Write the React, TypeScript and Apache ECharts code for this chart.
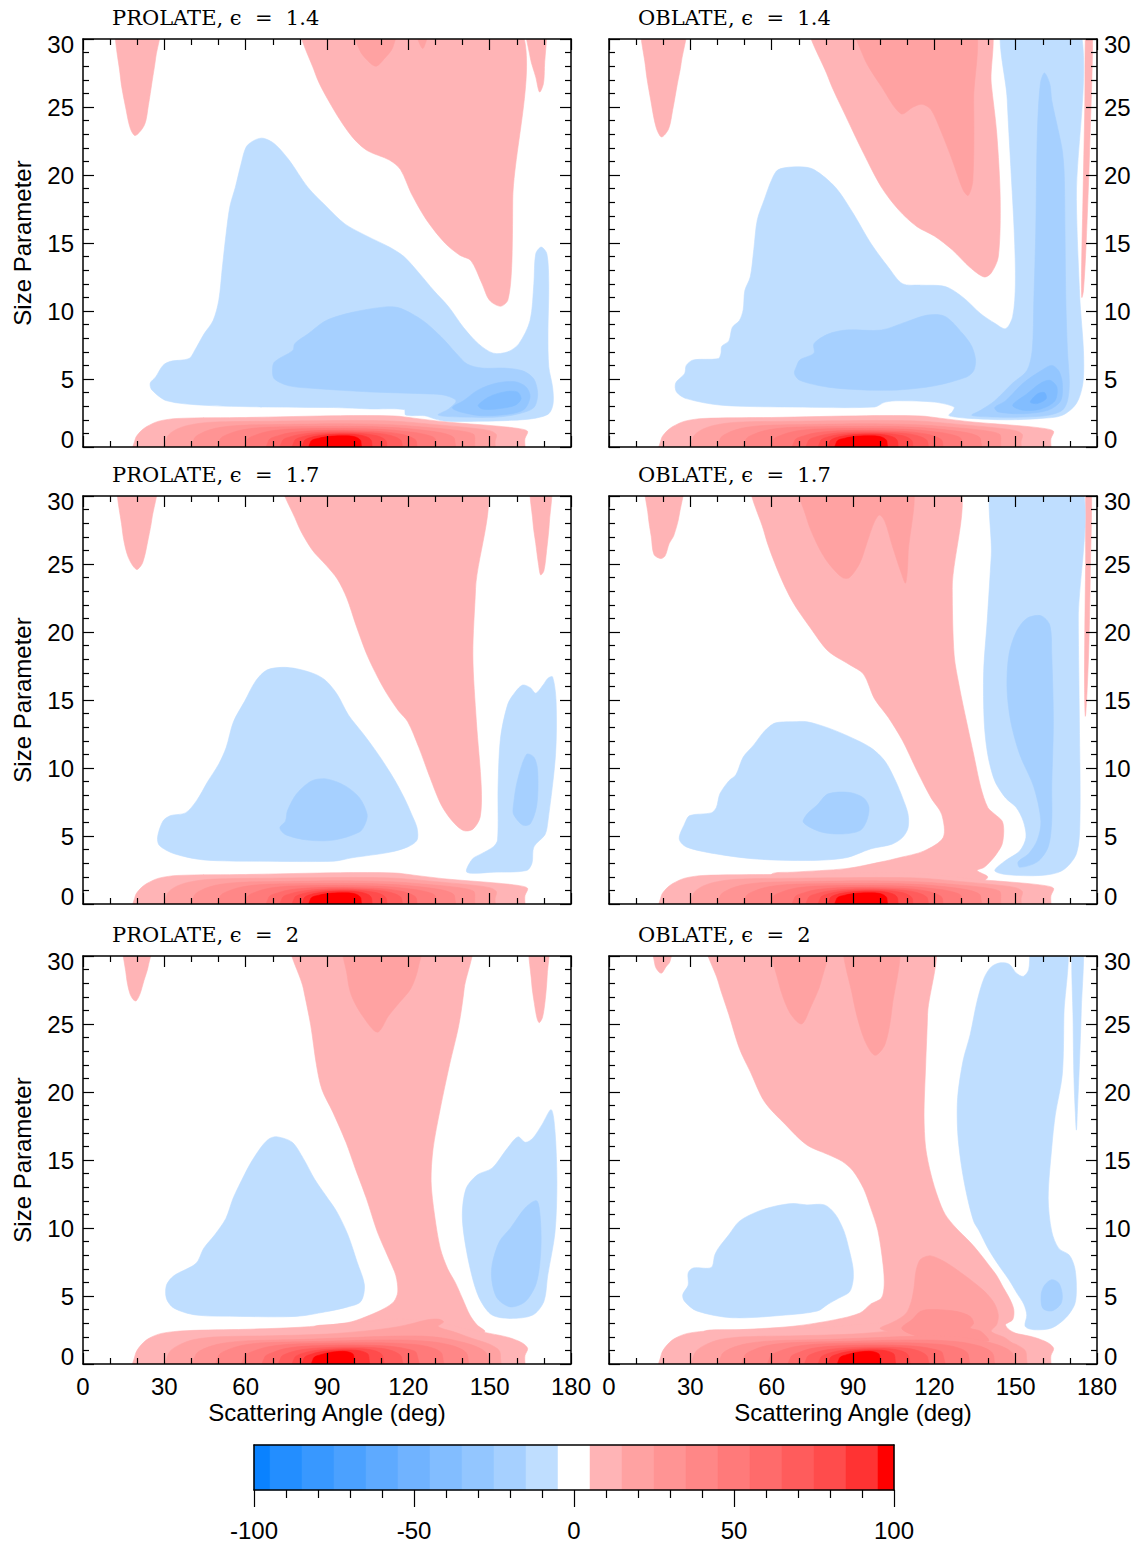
import React, { useEffect, useRef } from 'react';
import * as echarts from 'echarts';

type Pt = [number, number];
type Region = { lv: number; pts: Pt[] };

// Axis ranges
const ANGLE_MIN = 0;
const ANGLE_MAX = 180;
const ANGLE_STEP = 30;
const SIZE_MIN = 0;
const SIZE_MAX = 30;
const SIZE_STEP = 5;

const X_TITLE = 'Scattering Angle (deg)';
const Y_TITLE = 'Size Parameter';
const SP = '\u00a0';
const PANEL_TITLES = [
  `PROLATE, ϵ${SP}${SP}=${SP}${SP}1.4`,
  `OBLATE, ϵ${SP}${SP}=${SP}${SP}1.4`,
  `PROLATE, ϵ${SP}${SP}=${SP}${SP}1.7`,
  `OBLATE, ϵ${SP}${SP}=${SP}${SP}1.7`,
  `PROLATE, ϵ${SP}${SP}=${SP}${SP}2`,
  `OBLATE, ϵ${SP}${SP}=${SP}${SP}2`,
];

// Contour level edges (percent) and their fills
const LEVEL_EDGES = [-100, -95, -85, -75, -65, -55, -45, -35, -25, -15, -5, 5, 15, 25, 35, 45, 55, 65, 75, 85, 95, 100];
// level -1 (-15..-5) first, down to level -10 (-100..-95)
const BLUE_FILLS = ['#bfdeff', '#a6d0ff', '#93c6ff', '#82bdff', '#70b3ff', '#5eaaff', '#4ba1ff', '#3898ff', '#238eff', '#0a82ff'];
// level 1 (5..15) first, up to level 10 (95..100)
const RED_FILLS = ['#ffb4b6', '#ffa2a2', '#ff9494', '#ff8787', '#ff7a7a', '#ff6b6b', '#ff5c5c', '#ff4c4c', '#ff3333', '#ff0000'];

// Near-forward-size band, levels 1..10 (angle, size parameter) — panels of eps 1.4 and 1.7
const LOW_BANDS_A: Pt[][] = [
  [[18, 0], [19.3, 0.6], [21, 1.1], [23.5, 1.5], [28, 1.9], [35, 2.1], [60, 2.17], [95, 2.3], [115, 2.28], [122, 2.12], [134, 1.84], [152, 1.55], [161, 1.35], [164, 1.15], [163, 0.6], [162, 0]],
  [[29.6, 0], [31, 0.7], [34, 1.25], [39, 1.6], [47, 1.82], [70, 1.9], [100, 1.95], [115, 1.9], [128, 1.68], [142, 1.42], [150, 1.2], [152.5, 0.9], [152, 0.4], [151.5, 0]],
  [[39.5, 0], [41, 0.6], [44, 1.05], [49, 1.38], [57, 1.58], [75, 1.66], [100, 1.7], [115, 1.62], [128, 1.42], [138, 1.22], [144, 0.95], [144.5, 0.5], [143, 0]],
  [[49, 0], [50.5, 0.55], [54, 0.98], [59, 1.27], [67, 1.44], [85, 1.5], [105, 1.5], [118, 1.38], [128, 1.17], [134, 0.95], [137, 0.6], [136, 0]],
  [[59, 0], [60.5, 0.5], [64, 0.9], [69, 1.17], [77, 1.32], [95, 1.36], [110, 1.3], [120, 1.12], [127, 0.88], [130, 0.55], [129, 0]],
  [[67, 0], [68.5, 0.48], [72, 0.83], [77, 1.06], [85, 1.19], [98, 1.22], [110, 1.13], [117, 0.95], [121, 0.72], [123, 0.4], [122, 0]],
  [[72, 0], [73.5, 0.45], [77, 0.78], [82, 0.98], [90, 1.1], [100, 1.1], [110, 0.98], [115, 0.75], [117.5, 0.4], [117, 0]],
  [[76.5, 0], [78, 0.45], [81, 0.75], [86, 0.94], [94, 1.03], [102, 1.0], [108, 0.84], [111, 0.6], [112, 0.3], [111, 0]],
  [[80, 0], [81.5, 0.42], [84, 0.7], [89, 0.88], [96, 0.95], [102, 0.88], [105.5, 0.66], [106.5, 0.35], [106, 0]],
  [[82.5, 0], [84, 0.4], [87, 0.65], [92, 0.8], [98, 0.82], [101, 0.7], [102.5, 0.42], [102, 0]],
];

// Near-forward-size band, levels 1..10 — panels of eps 2
const LOW_BANDS_B: Pt[][] = [
  [[18, 0], [19.3, 0.7], [21, 1.3], [24, 1.85], [29, 2.25], [38, 2.45], [60, 2.55], [80, 2.7], [95, 2.95], [105, 3.1], [115, 3.3], [125, 3.2], [135, 2.9], [143, 2.5], [150, 2.25], [157, 1.95], [162, 1.55], [164, 1.15], [163, 0.6], [162, 0]],
  [[30, 0], [31.5, 0.75], [35, 1.35], [41, 1.8], [50, 2.0], [70, 2.08], [90, 2.2], [105, 2.45], [115, 2.7], [122, 3.0], [127, 3.25], [131, 3.3], [133, 3.1], [131, 2.75], [137, 2.35], [144, 1.85], [150, 1.45], [153.5, 1.0], [154, 0.5], [153.5, 0]],
  [[40, 0], [41.5, 0.65], [45, 1.15], [51, 1.5], [60, 1.7], [80, 1.8], [100, 1.95], [115, 2.05], [125, 2.05], [133, 1.9], [140, 1.6], [146, 1.2], [149, 0.7], [149, 0]],
  [[48.5, 0], [50, 0.6], [53.5, 1.05], [59, 1.38], [67, 1.56], [85, 1.65], [105, 1.75], [120, 1.75], [130, 1.6], [137, 1.3], [141, 0.9], [142, 0.45], [141.5, 0]],
  [[58, 0], [59.5, 0.55], [63, 0.95], [68, 1.25], [76, 1.45], [95, 1.55], [112, 1.55], [124, 1.4], [130, 1.1], [132.5, 0.7], [132, 0]],
  [[65.5, 0], [67, 0.5], [70.5, 0.88], [75, 1.15], [83, 1.32], [98, 1.4], [112, 1.32], [119, 1.12], [123, 0.8], [123, 0]],
  [[71.5, 0], [73, 0.48], [76, 0.82], [81, 1.06], [89, 1.2], [100, 1.25], [110, 1.15], [115, 0.9], [117.5, 0.5], [117.5, 0]],
  [[76.5, 0], [78, 0.45], [81, 0.78], [86, 1.0], [94, 1.12], [103, 1.12], [108, 0.95], [110.5, 0.6], [110.5, 0]],
  [[80, 0], [81.5, 0.43], [84.5, 0.74], [89, 0.94], [96, 1.03], [102, 0.98], [105, 0.75], [105.5, 0.4], [105.5, 0]],
  [[83.5, 0], [85, 0.42], [88, 0.7], [92, 0.88], [97, 0.92], [99.5, 0.75], [100, 0.4], [99.5, 0]],
];

// Traced contour regions above the forward band
const PROLATE_14: Region[] = [
  { lv: 1, pts: [[12.9, 30], [13.8, 27.2], [15.9, 24.8], [17.5, 23.4], [19.3, 22.9], [22.7, 23.7], [24.1, 25.1], [25.5, 26.9], [26.8, 28.6], [28.2, 30]] },
  { lv: 1, pts: [[81.2, 30], [85.6, 27.5], [92.5, 24.8], [99.3, 22.8], [104.8, 21.8], [113, 21.1], [117.1, 20.4], [121.2, 18.6], [126.7, 16.7], [133.5, 15.0], [139, 14.1], [143.1, 13.7], [147.2, 12.0], [149.9, 10.8], [154, 10.35], [156.7, 10.8], [158.1, 13.2], [158.5, 18.1], [158.9, 30]] },
  { lv: 2, pts: [[99.3, 30], [102, 29.2], [106.1, 28.2], [108.2, 28.0], [110.9, 28.5], [114.3, 29.4], [115.7, 30]] },
  { lv: 2, pts: [[121.9, 30], [125.3, 29.3], [127.7, 30]] },
  { lv: 1, pts: [[163.3, 30], [165, 28.6], [167, 27.2], [168.4, 26.1], [169.8, 26.7], [170.2, 27.9], [170.4, 30]] },
  { lv: -1, pts: [[66.5, 22.7], [70.6, 22.3], [76, 21.1], [82.9, 19.1], [89.7, 17.7], [96.6, 16.4], [104.8, 15.5], [113, 14.7], [118.4, 14.0], [123.9, 12.8], [129.4, 11.5], [134.9, 10.3], [140.3, 8.8], [145.8, 7.6], [151.3, 6.9], [156.7, 7.0], [160.8, 7.6], [164.9, 9.3], [166.3, 12.0], [167, 14.2], [169, 14.7], [171.1, 14.2], [171.8, 12.0], [171.5, 8.3], [171.8, 5.9], [173.2, 4.4], [173.4, 3.2], [171.8, 2.45], [166.3, 2.1], [158.1, 1.96], [147.2, 1.9], [133.5, 1.9], [130, 2.05], [126, 2.3], [119, 2.35], [118.5, 2.75], [106.1, 2.8], [92.5, 2.9], [65.1, 2.95], [44.6, 3.07], [30.9, 3.4], [25.4, 4.2], [24.8, 4.7], [26.8, 5.15], [29.5, 6.0], [32.3, 6.3], [39.1, 6.5], [41.2, 7.1], [44.6, 8.3], [48, 9.3], [50.1, 10.8], [51.4, 13.2], [52.8, 15.7], [54.2, 17.7], [56.2, 19.1], [58.3, 20.8], [60.3, 22.1], [63.7, 22.6]] },
  { lv: -2, pts: [[69.9, 5.6], [70.6, 6.25], [77.4, 7.1], [78.1, 7.6], [82.9, 8.3], [89.7, 9.3], [99.3, 9.9], [111.6, 10.3], [117.1, 10.2], [125.3, 9.3], [132.1, 8.1], [137.6, 6.9], [141.7, 6.1], [147.2, 5.8], [155.4, 5.8], [162.2, 5.6], [166.3, 5.0], [167.7, 3.9], [166.3, 2.9], [160.8, 2.45], [152.6, 2.2], [140.3, 2.2], [131, 2.35], [134.9, 2.8], [137.6, 3.4], [133.5, 3.8], [128, 3.9], [106.1, 4.05], [85.6, 4.3], [76, 4.5], [70.6, 5.0]] },
  { lv: -3, pts: [[136.2, 2.9], [140.3, 3.4], [145.8, 4.2], [152.6, 4.7], [159.4, 4.8], [163.5, 4.4], [164.9, 3.7], [162.9, 2.8], [158.1, 2.45], [147.2, 2.3], [138.9, 2.6]] },
  { lv: -4, pts: [[145.8, 3.07], [149.9, 3.7], [155.4, 4.05], [160.2, 4.05], [161.6, 3.55], [159.4, 3.07], [152.6, 2.8], [147.2, 2.8]] },
];

const OBLATE_14: Region[] = [
  { lv: 1, pts: [[12.6, 30], [13.5, 27.9], [15.4, 25.5], [17.4, 23.5], [19.4, 22.8], [22, 23.4], [23.5, 24.8], [25.2, 26.7], [26.6, 28.2], [28.1, 30]] },
  { lv: 1, pts: [[74.6, 30], [80.8, 27.2], [87.4, 24.3], [93.9, 21.6], [100.5, 19.1], [107, 17.4], [113.6, 16.2], [120.1, 15.5], [126.6, 14.5], [133.2, 13.2], [138.4, 12.5], [141, 12.8], [143.6, 14.0], [144.3, 18.2], [143, 23.1], [141, 26.7], [138.8, 30]] },
  { lv: 2, pts: [[90.7, 30], [93.9, 28.7], [100.5, 26.5], [107.7, 24.5], [112.2, 25.0], [115.5, 25.2], [118.8, 24.8], [122.7, 23.1], [126.6, 21.1], [130.6, 18.9], [132.5, 18.5], [134.2, 19.6], [134.5, 25.5], [133.2, 30]] },
  { lv: 1, pts: [[176.1, 30], [175.5, 25], [174.8, 18], [174.3, 13], [174.4, 11], [175, 11.5], [176, 15], [177.3, 22], [178.3, 30]] },
  { lv: -1, pts: [[145.9, 30], [146.9, 25.5], [148.2, 20.6], [149.5, 15.7], [149.9, 12.0], [148.9, 9.6], [146.3, 8.7], [142.3, 9.1], [137.1, 9.8], [130.6, 11.0], [124, 11.8], [114.9, 11.9], [108.3, 12.0], [103.1, 13.2], [96.5, 15.0], [90, 17.2], [83.5, 19.1], [75.6, 20.4], [70.4, 20.6], [62.5, 20.4], [59.9, 19.6], [57.3, 18.2], [54.7, 16.7], [53.4, 14.5], [52.1, 12.5], [50.1, 11.5], [49.5, 10.1], [48.1, 9.3], [45.5, 8.8], [44.2, 7.8], [41.6, 7.4], [41.3, 6.9], [40.3, 6.5], [31.1, 6.4], [28.5, 6.0], [27.9, 5.4], [24.6, 4.7], [24.9, 4.05], [28.5, 3.56], [41.6, 3.07], [67.8, 2.94], [97.9, 2.94], [101.8, 3.3], [107, 3.4], [120.1, 3.3], [127.3, 2.94], [126.6, 2.58], [125.3, 2.33], [127.9, 2.2], [133.2, 2.1], [146.3, 2.0], [159.3, 2.1], [167.2, 2.33], [172.4, 3.2], [174.8, 4.7], [175, 7.1], [173.7, 10.8], [172.4, 18.2], [172.7, 30]] },
  { lv: -2, pts: [[69.1, 5.9], [70.4, 6.4], [75.6, 6.9], [75.6, 7.6], [80.8, 8.3], [87.4, 8.6], [100.5, 8.6], [109.6, 9.2], [117.5, 9.7], [124, 9.6], [130.6, 8.3], [133.8, 7.4], [135.2, 6.4], [134.5, 5.6], [131.9, 5.15], [120.1, 4.5], [107, 4.2], [93.9, 4.2], [80.8, 4.4], [70.4, 4.9], [68.4, 5.4]] },
  { lv: -2, pts: [[160.6, 27.5], [162.6, 26.7], [163.3, 25.5], [165.9, 23.1], [167.2, 21.8], [167.9, 20.1], [168.2, 15.7], [168.5, 10.8], [169.1, 7.1], [169.8, 4.7], [169.1, 3.4], [167.2, 2.7], [161.9, 2.33], [152.8, 2.2], [142.3, 2.2], [133.8, 2.33], [137.1, 2.7], [142.3, 3.4], [148.9, 4.7], [154.1, 5.6], [156.1, 7.1], [156.7, 10.8], [157.4, 15.7], [158, 23.1], [159.1, 26.7]] },
  { lv: -3, pts: [[142.3, 2.9], [146.3, 3.4], [152.8, 4.7], [159.3, 5.6], [163.3, 6.0], [165.9, 5.6], [167.2, 4.7], [166.6, 3.4], [161.9, 2.7], [152.8, 2.45], [143.6, 2.58]] },
  { lv: -4, pts: [[148.9, 3.07], [154.1, 3.9], [159.3, 4.7], [162.6, 4.9], [165.2, 4.4], [164.5, 3.4], [159.3, 2.8], [152.8, 2.7]] },
  { lv: -5, pts: [[155.4, 3.3], [158, 3.9], [160.6, 4.0], [161.3, 3.56], [158, 3.2]] },
];

const PROLATE_17: Region[] = [
  { lv: 1, pts: [[13.4, 30], [14.5, 27.5], [16.5, 25.6], [19.7, 24.6], [22, 25.1], [24.1, 26.9], [25.4, 28.3], [27.1, 30]] },
  { lv: 1, pts: [[74, 30], [78.8, 28.1], [84.3, 26.1], [89.7, 24.9], [93.8, 23.9], [97.3, 22.5], [100.7, 20.5], [104.8, 18.3], [108.9, 16.6], [112.3, 15.4], [116.4, 14.2], [119.8, 13.4], [123.9, 11.5], [128, 9.3], [132.1, 7.3], [136.2, 6.1], [140.3, 5.4], [143.8, 5.5], [146.5, 6.4], [146.9, 8.6], [145.1, 13.4], [143.8, 18.3], [144.8, 23.2], [146.5, 30]] },
  { lv: 1, pts: [[165.2, 30], [166, 28], [167, 26.5], [168, 25], [168.8, 24.2], [170, 24.5], [171, 26], [172, 28], [172.5, 30]] },
  { lv: -1, pts: [[73.3, 17.4], [78.8, 17.3], [85.6, 16.9], [89.7, 16.4], [93.8, 15.4], [97.9, 13.9], [103.4, 12.5], [108.9, 11.0], [114.4, 9.3], [118.5, 7.8], [121.2, 6.6], [123.2, 5.6], [123.2, 4.7], [119.8, 4.2], [113, 3.8], [99.3, 3.4], [92.5, 3.15], [65.1, 3.15], [44.6, 3.24], [33.6, 3.7], [28.2, 4.3], [27.5, 4.9], [29.5, 6.1], [32.3, 6.5], [37.8, 6.7], [41.9, 7.6], [46, 9.0], [50.1, 10.3], [52.8, 11.5], [55.5, 13.4], [59.6, 14.9], [63.7, 16.4], [67.8, 17.2]] },
  { lv: -2, pts: [[74.7, 6.1], [75.4, 6.85], [78.8, 8.1], [84.3, 9.05], [89.7, 9.2], [96.6, 8.7], [102, 7.8], [104.8, 6.6], [104.1, 5.9], [102, 5.3], [92.5, 4.7], [82.9, 4.7], [74.7, 5.1], [72.6, 5.6]] },
  { lv: -1, pts: [[173.2, 16.7], [174.5, 14.9], [174.3, 11.0], [171.5, 6.1], [170.4, 5.1], [166.3, 4.2], [165.6, 3.0], [163.6, 2.46], [151.3, 2.34], [141.6, 2.34], [143.6, 3.3], [147, 3.7], [151.3, 4.2], [152.9, 4.7], [153.1, 8.6], [154, 12.2], [156.7, 14.7], [159.5, 15.6], [162.2, 16.1], [165, 15.9], [167, 15.5], [169.7, 16.1], [171.5, 16.6]] },
  { lv: -2, pts: [[163.6, 11.0], [166.3, 10.8], [167.7, 9.8], [167.4, 7.3], [165, 5.9], [162.2, 5.8], [158.8, 6.6], [158.8, 7.3], [160.2, 9.05]] },
];

const OBLATE_17: Region[] = [
  { lv: 1, pts: [[13.7, 30], [14.5, 28.5], [15.6, 27], [16.6, 25.7], [19.1, 25.4], [20.7, 25.6], [22.2, 26.5], [23.9, 27.1], [25.9, 28.6], [27.2, 30]] },
  { lv: 1, pts: [[53.4, 30], [57.3, 27.3], [62.5, 24.4], [67.8, 22.2], [74.3, 20.3], [80.8, 18.6], [88.7, 17.6], [93.9, 16.9], [97.9, 15.1], [103.1, 13.7], [108.3, 12.0], [113.6, 9.8], [118.8, 7.8], [122.7, 6.6], [123.3, 4.9], [116.2, 3.9], [107, 3.4], [100.5, 3.1], [87.4, 2.6], [67.8, 2.34], [60, 2.2], [62, 1.4], [135, 1.4], [139.7, 1.98], [135.8, 2.46], [138.4, 2.7], [141, 3.2], [143, 3.7], [145, 4.4], [145.6, 5.4], [145, 6.1], [142.3, 6.6], [139.7, 7.1], [137.1, 8.6], [134.5, 11.0], [131.9, 13.4], [129.3, 15.9], [127.3, 18.3], [126.6, 23.2], [126.9, 30]] },
  { lv: 2, pts: [[70, 30], [73, 28.3], [76.9, 26.4], [80.8, 25.1], [86.1, 24.0], [88.7, 24.0], [92.6, 25.1], [95.2, 26.6], [97.9, 28.1], [99.8, 28.6], [101.8, 28.1], [104.4, 26.4], [107.7, 24.4], [109.4, 23.6], [110.3, 25.6], [110.3, 30]] },
  { lv: 1, pts: [[176.1, 30], [175.8, 25], [175.5, 20], [175.4, 16], [175.7, 13.8], [176.3, 15.5], [177, 19], [177.5, 24], [177.9, 30]] },
  { lv: -1, pts: [[67.8, 13.4], [73, 13.4], [80.8, 12.95], [88.7, 12.3], [96.5, 11.5], [101.8, 10.5], [105.7, 9.05], [108.3, 7.8], [110.3, 6.6], [110.3, 5.6], [108.3, 4.9], [104.4, 4.4], [96.5, 4.05], [87.4, 3.4], [74.3, 3.2], [54.7, 3.3], [39, 3.7], [28.5, 4.2], [25.9, 4.8], [27.9, 5.9], [29.8, 6.5], [37.7, 6.7], [39.6, 7.1], [40.9, 8.1], [44.2, 9.05], [46.8, 9.5], [49.5, 10.8], [53.4, 11.7], [57.3, 12.7], [61.2, 13.3]] },
  { lv: -2, pts: [[80.8, 8.1], [88.7, 8.2], [93.9, 7.8], [95.9, 7.1], [95, 6.1], [92.6, 5.4], [86.1, 5.15], [78.2, 5.3], [71.7, 6.0], [73, 6.6], [76.9, 7.3]] },
  { lv: -1, pts: [[142.7, 30], [141, 25.6], [139.5, 20.8], [138.2, 17.1], [138.4, 13.4], [139.7, 11.0], [142.3, 9.05], [146.3, 7.8], [150.2, 7.1], [152.8, 6.1], [153.8, 4.9], [151.5, 3.9], [146.3, 3.2], [142.3, 2.46], [146.3, 2.17], [159.3, 2.1], [167.2, 2.46], [172.4, 3.7], [173.7, 6.1], [173.5, 13.4], [173.1, 20.8], [173.1, 30]] },
  { lv: -2, pts: [[154.1, 21.0], [159.3, 21.2], [162.6, 20.5], [163.3, 18.3], [163.9, 13.4], [163.3, 8.6], [163.3, 6.1], [162, 4.2], [158, 3.1], [151.5, 2.7], [150.9, 3.1], [154.8, 3.7], [158, 4.7], [159.3, 6.1], [156.7, 8.6], [151.5, 11.0], [148.2, 13.4], [146.8, 15.9], [147.5, 18.3], [150.2, 20.0]] },
];

const PROLATE_20: Region[] = [
  { lv: 1, pts: [[15.1, 30], [16, 28.5], [17.2, 27.3], [18.5, 26.8], [19.6, 26.7], [21, 27.2], [22.5, 28.2], [24, 29.2], [25.6, 30]] },
  { lv: 1, pts: [[77.2, 30], [81.3, 27.6], [84, 24.9], [86.1, 22.0], [88.1, 20.2], [92.2, 18.5], [97, 16.3], [100.4, 14.4], [104.5, 12.2], [108.6, 9.7], [112.7, 7.8], [115.4, 6.5], [116.1, 5.3], [114.7, 4.6], [111.3, 4.1], [105.9, 3.6], [99, 3.1], [92.2, 2.9], [85, 2.7], [86, 1.6], [140, 1.6], [148.2, 2.37], [145.4, 2.86], [142.7, 3.6], [140, 4.8], [137.3, 6.0], [134.5, 7.0], [131.8, 8.5], [129.7, 10.9], [128.4, 13.4], [129.1, 15.8], [131.8, 18.8], [135.2, 22.0], [138.6, 24.9], [140.6, 27.6], [142.4, 30]] },
  { lv: 2, pts: [[96.3, 30], [97.5, 28.5], [99, 27.1], [103.1, 25.6], [108.6, 24.4], [112.7, 25.6], [116.8, 26.6], [120.9, 27.6], [123.6, 29.1], [124.7, 30]] },
  { lv: 1, pts: [[164.8, 30], [165.5, 28], [166.5, 26.5], [167.5, 25.4], [168.3, 25.1], [169.5, 25.5], [170.5, 26.8], [171.2, 28.5], [171.6, 30]] },
  { lv: -1, pts: [[71.8, 16.7], [77.2, 16.3], [81.3, 15.1], [85.4, 13.6], [89.5, 12.4], [93.6, 11.2], [97.7, 9.5], [101.1, 7.5], [103.8, 5.8], [102.5, 4.6], [97.7, 4.2], [89.5, 3.84], [78.6, 3.5], [58.1, 3.5], [41.7, 3.6], [33.6, 4.1], [30.8, 4.8], [30.8, 5.8], [33.6, 6.5], [41.7, 7.4], [44.5, 8.5], [48.6, 9.5], [52.7, 10.7], [55.4, 12.2], [59.5, 13.9], [62.2, 14.9], [66.3, 16.1], [69, 16.6]] },
  { lv: -1, pts: [[172.7, 18.7], [174.1, 17.1], [174.8, 13.4], [174.1, 9.7], [171.4, 6.5], [170, 4.6], [165.9, 3.6], [157.7, 3.35], [150.9, 3.6], [146.8, 4.6], [144.1, 6.0], [141.3, 8.5], [139.9, 10.9], [141.3, 12.9], [145.4, 13.9], [150.9, 14.4], [156.3, 15.8], [160.4, 16.7], [163.2, 16.3], [165.9, 16.6], [169.3, 17.6]] },
  { lv: -2, pts: [[167.3, 12.0], [168.6, 10.9], [168.9, 8.5], [167.3, 6.0], [163.2, 4.6], [157.7, 4.2], [152.9, 4.8], [150.9, 6.0], [150.9, 7.3], [153.6, 9.0], [157.7, 10.0], [163.2, 11.5]] },
];

const OBLATE_20: Region[] = [
  { lv: 1, pts: [[16.1, 30], [17, 29.3], [18.5, 28.8], [19.5, 28.75], [21, 29.2], [22.5, 29.6], [23.9, 30]] },
  { lv: 1, pts: [[36.4, 30], [40.3, 28.1], [44.2, 25.7], [48.1, 23.2], [52.1, 21.5], [57.3, 19.3], [65.1, 17.6], [73, 16.1], [80.8, 15.4], [86, 14.9], [90, 14.2], [93.9, 12.9], [96.5, 11.5], [99.2, 9.8], [101.1, 7.3], [101.5, 5.8], [100.5, 4.85], [96.5, 4.4], [92.6, 3.75], [83.5, 3.26], [67.8, 2.77], [48.1, 2.52], [35.1, 2.4], [40, 1.5], [150, 1.5], [152.8, 1.9], [147.6, 2.52], [146.3, 2.9], [148.9, 3.26], [149.3, 4.0], [147.8, 4.8], [145.5, 5.6], [143, 6.5], [140, 7.3], [136.5, 8.2], [133, 9.0], [128, 10.0], [124, 11.0], [121.4, 12.2], [118.8, 13.9], [116.8, 15.9], [116.2, 18.3], [116.8, 22.0], [117.5, 25.7], [118.1, 30]] },
  { lv: 2, pts: [[59.9, 30], [62.5, 28.1], [66.5, 25.9], [71, 25.0], [74.3, 26.2], [78.2, 28.1], [80.8, 30]] },
  { lv: 2, pts: [[87.1, 30], [90, 26.9], [93.9, 24.0], [98, 22.7], [101.8, 23.5], [104.4, 26.2], [106.4, 30]] },
  { lv: 2, pts: [[114.5, 7.6], [116.2, 7.85], [118.8, 7.95], [124, 7.5], [130.6, 6.6], [135.8, 5.8], [139.7, 5.1], [142.3, 4.4], [143.6, 3.6], [143, 2.9], [141, 2.4], [146.3, 1.9], [149.5, 1.3], [130, 1.8], [110, 2.2], [100, 2.6], [105, 3.1], [109.5, 3.7], [111.5, 4.6], [112.5, 5.6], [113.2, 6.8]] },
  { lv: 3, pts: [[108, 2.6], [112, 3.3], [114.9, 3.87], [118.8, 4.0], [128, 3.87], [133.2, 3.5], [134.5, 3.0], [133.2, 2.65], [137.1, 2.4], [140, 1.7], [130, 1.9], [115, 2.0]] },
  { lv: -1, pts: [[73, 11.7], [79.5, 11.7], [83.5, 11.0], [86.7, 9.75], [88.7, 8.3], [90, 7.06], [90, 6.1], [88.7, 5.3], [84.8, 4.85], [80.8, 4.4], [76.9, 3.9], [65.1, 3.6], [45.5, 3.4], [32.4, 3.9], [27.9, 4.6], [27.2, 5.1], [29.2, 5.8], [29.2, 6.7], [31.1, 7.06], [37.7, 7.1], [39, 8.0], [40.3, 8.5], [44.2, 9.5], [48.1, 10.5], [54.7, 11.2], [61.2, 11.6], [67.8, 11.8]] },
  { lv: -1, pts: [[144.3, 29.5], [147.6, 29.4], [150.2, 28.75], [152.8, 28.5], [154.8, 29.0], [156.5, 30], [168.5, 30], [167.8, 25.7], [167.2, 21.3], [164.6, 18.3], [163.3, 15.9], [162, 12.2], [163.3, 9.75], [165.9, 8.5], [169.8, 8.0], [171.8, 7.06], [172.4, 5.6], [171.8, 4.4], [168.5, 3.4], [163.3, 2.65], [156.7, 2.52], [153.5, 2.77], [154.1, 3.6], [153, 4.4], [150.5, 5.2], [147.5, 6.2], [143.6, 7.3], [139.8, 8.5], [136.5, 9.8], [134.5, 10.5], [131.9, 12.5], [129.9, 14.7], [128.6, 17.1], [128.6, 19.6], [130.6, 22.3], [133.2, 24.2], [135.8, 26.7], [138.4, 28.4], [141, 29.2]] },
  { lv: -1, pts: [[171.1, 30], [171.2, 25], [171.5, 21], [172, 18.5], [172.4, 17.2], [172.8, 18.8], [173.5, 22], [174.2, 26], [174.8, 30]] },
  { lv: -2, pts: [[163.3, 6.2], [165.9, 5.95], [167.2, 5.1], [166.6, 4.4], [163.3, 3.9], [160, 4.1], [159.4, 5.1], [160.7, 5.8]] },
];

const PANEL_REGIONS: Region[][] = [PROLATE_14, OBLATE_14, PROLATE_17, OBLATE_17, PROLATE_20, OBLATE_20];
const PANEL_LOW_BANDS: Pt[][][] = [LOW_BANDS_A, LOW_BANDS_A, LOW_BANDS_A, LOW_BANDS_A, LOW_BANDS_B, LOW_BANDS_B];

// Page layout (px)
const PANEL_LEFT = [83, 609];
const PANEL_TOP = [39, 496, 956];
const PANEL_W = 488;
const PANEL_H = 408;
const TITLE_TOP = [2, 459, 919];
const TITLE_LEFT = [107, 633];

const SANS = 'Liberation Sans, Arial, Helvetica, sans-serif';
const SERIF = 'DejaVu Serif, serif';

const fillOf = (lv: number) => (lv > 0 ? RED_FILLS[lv - 1] : BLUE_FILLS[-lv - 1]);
const COLORBAR_FILLS = [...BLUE_FILLS.slice().reverse(), '#ffffff', ...RED_FILLS];

function buildOption() {
  const grid: any[] = [];
  const xAxis: any[] = [];
  const yAxis: any[] = [];
  const series: any[] = [];
  const title: any[] = [];

  const tickLine = { color: '#000', width: 1.2 };
  const frameLine = { color: '#000', width: 1.5 };
  const labelFont = { fontFamily: SANS, fontSize: 24, color: '#000' };

  // End labels of the size axis sit just inside the frame
  const sizeLabel = {
    ...labelFont,
    formatter: (v: number) => (v === SIZE_MAX ? `{hi|${v}}` : v === SIZE_MIN ? `{lo|${v}}` : `${v}`),
    rich: {
      hi: { ...labelFont, padding: [10, 0, 0, 0] },
      lo: { ...labelFont, padding: [0, 0, 16, 0] },
    },
  };

  for (let p = 0; p < 6; p++) {
    const row = Math.floor(p / 2);
    const col = p % 2;
    grid.push({ left: PANEL_LEFT[col], top: PANEL_TOP[row], width: PANEL_W, height: PANEL_H, containLabel: false });
    title.push({
      text: PANEL_TITLES[p],
      left: TITLE_LEFT[col],
      top: TITLE_TOP[row],
      textStyle: { fontFamily: SERIF, fontSize: 21, fontWeight: 'normal', color: '#000' },
    });

    const xBase = {
      type: 'value', gridIndex: p, min: ANGLE_MIN, max: ANGLE_MAX, interval: ANGLE_STEP, z: 10,
      axisLine: { show: true, onZero: false, lineStyle: frameLine },
      axisTick: { show: true, inside: true, length: 11, lineStyle: tickLine },
      minorTick: { show: true, splitNumber: 3, length: 6, lineStyle: tickLine },
      splitLine: { show: false },
      minorSplitLine: { show: false },
    };
    xAxis.push({
      ...xBase, position: 'bottom',
      axisLabel: { show: row === 2, margin: 10, ...labelFont },
      name: row === 2 ? X_TITLE : '', nameLocation: 'middle', nameGap: 36,
      nameTextStyle: { ...labelFont },
    });
    xAxis.push({ ...xBase, position: 'top', axisLabel: { show: false } });

    const yBase = {
      type: 'value', gridIndex: p, min: SIZE_MIN, max: SIZE_MAX, interval: SIZE_STEP, z: 10,
      axisLine: { show: true, onZero: false, lineStyle: frameLine },
      axisTick: { show: true, inside: true, length: 11, lineStyle: tickLine },
      minorTick: { show: true, splitNumber: 5, length: 6, lineStyle: tickLine },
      splitLine: { show: false },
      minorSplitLine: { show: false },
    };
    yAxis.push({
      ...yBase, position: 'left',
      axisLabel: { show: col === 0, margin: 9, ...sizeLabel },
      name: col === 0 ? Y_TITLE : '', nameLocation: 'middle', nameGap: 49,
      nameTextStyle: { ...labelFont },
    });
    yAxis.push({
      ...yBase, position: 'right',
      axisLabel: { show: col === 1, margin: 7, ...sizeLabel },
    });

    const regions: Region[] = [
      ...PANEL_REGIONS[p],
      ...PANEL_LOW_BANDS[p].map((pts, k) => ({ lv: k + 1, pts })),
    ].sort((a, b) => Math.abs(a.lv) - Math.abs(b.lv));

    series.push({
      type: 'custom',
      coordinateSystem: 'cartesian2d',
      xAxisIndex: p * 2,
      yAxisIndex: p * 2,
      clip: true,
      silent: true,
      data: regions.map((r) => r.pts[0]),
      renderItem: (params: any, api: any) => {
        const r = regions[params.dataIndex];
        // Vertices lying on the frame are pushed just outside it so the fill reaches the border
        const points = r.pts.map(([a, s]) =>
          api.coord([
            a <= ANGLE_MIN ? ANGLE_MIN - 4 : a >= ANGLE_MAX ? ANGLE_MAX + 4 : a,
            s >= SIZE_MAX ? SIZE_MAX + 1.5 : s <= SIZE_MIN ? SIZE_MIN - 1.5 : s,
          ])
        );
        const c = fillOf(r.lv);
        return {
          type: 'polygon',
          shape: { points, smooth: 0.3 },
          style: { fill: c, stroke: c, lineWidth: 0.6 },
        };
      },
    });
  }

  // Colour bar
  const cb = 6;
  grid.push({ left: 254, top: 1445, width: 640, height: 45, containLabel: false });
  xAxis.push({
    type: 'value', gridIndex: cb, position: 'bottom', min: -100, max: 100, interval: 50, z: 10,
    axisLine: { show: true, onZero: false, lineStyle: frameLine },
    axisTick: { show: true, inside: false, length: 17, lineStyle: tickLine },
    minorTick: { show: true, splitNumber: 5, length: 8, lineStyle: tickLine },
    splitLine: { show: false },
    axisLabel: { show: true, margin: 28, ...labelFont },
  });
  xAxis.push({
    type: 'value', gridIndex: cb, position: 'top', min: -100, max: 100, z: 10,
    axisLine: { show: true, onZero: false, lineStyle: frameLine },
    axisTick: { show: false }, axisLabel: { show: false }, splitLine: { show: false },
  });
  yAxis.push({
    type: 'value', gridIndex: cb, position: 'left', min: 0, max: 1, z: 10,
    axisLine: { show: true, onZero: false, lineStyle: frameLine },
    axisTick: { show: false }, axisLabel: { show: false }, splitLine: { show: false },
  });
  yAxis.push({
    type: 'value', gridIndex: cb, position: 'right', min: 0, max: 1, z: 10,
    axisLine: { show: true, onZero: false, lineStyle: frameLine },
    axisTick: { show: false }, axisLabel: { show: false }, splitLine: { show: false },
  });
  series.push({
    type: 'custom',
    coordinateSystem: 'cartesian2d',
    xAxisIndex: cb * 2,
    yAxisIndex: cb * 2,
    silent: true,
    data: LEVEL_EDGES.slice(0, -1).map((lo, i) => [lo, LEVEL_EDGES[i + 1]]),
    renderItem: (params: any, api: any) => {
      const i = params.dataIndex;
      const p0 = api.coord([LEVEL_EDGES[i], 1]);
      const p1 = api.coord([LEVEL_EDGES[i + 1], 0]);
      return {
        type: 'rect',
        shape: { x: p0[0], y: p0[1], width: p1[0] - p0[0], height: p1[1] - p0[1] },
        style: { fill: COLORBAR_FILLS[i], stroke: COLORBAR_FILLS[i], lineWidth: 0.5 },
      };
    },
  });

  return {
    animation: false,
    backgroundColor: '#ffffff',
    title,
    grid,
    xAxis,
    yAxis,
    series,
  };
}

export default function App() {
  const ref = useRef<HTMLDivElement>(null);
  useEffect(() => {
    if (!ref.current) return;
    const chart = echarts.init(ref.current, undefined, { renderer: 'svg' });
    chart.setOption(buildOption() as any);
    return () => chart.dispose();
  }, []);
  return (
    <div
      ref={ref}
      style={{ position: 'absolute', left: 0, top: 0, width: 1135, height: 1547, background: '#fff' }}
    />
  );
}
